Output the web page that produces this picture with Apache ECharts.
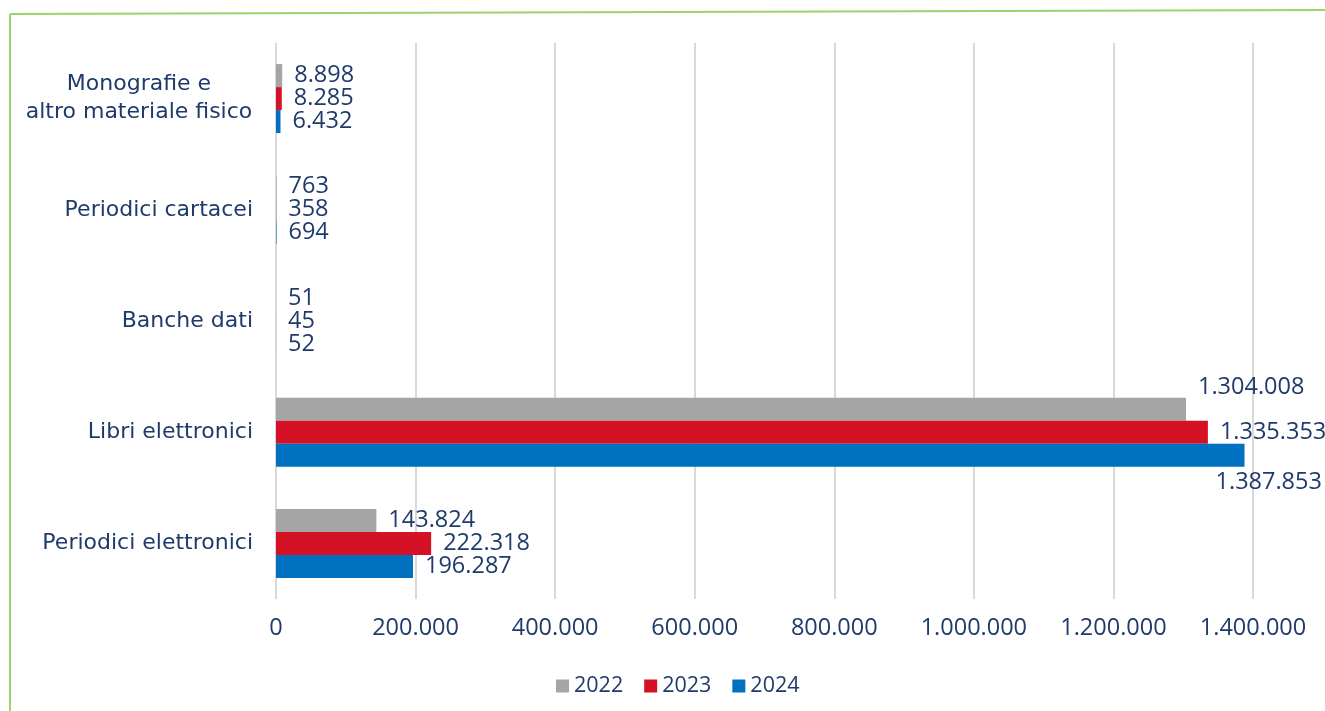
<!DOCTYPE html>
<html>
<head>
<meta charset="utf-8">
<script src="https://cdn.jsdelivr.net/npm/echarts@6/dist/echarts.min.js"></script>
<style>
html,body{margin:0;padding:0;background:#fff;}
#main{width:1325px;height:711px;}
</style>
</head>
<body>
<div id="main"></div>
<script>
const categories = ['Periodici elettronici', 'Libri elettronici', 'Banche dati', 'Periodici cartacei', 'Monografie e\naltro materiale fisico'];
const years = ['2022', '2023', '2024'];
const values2022 = [143824, 1304008, 51, 763, 8898];
const values2023 = [222318, 1335353, 45, 358, 8285];
const values2024 = [196287, 1387853, 52, 694, 6432];
const xTicks = { min: 0, max: 1400000, interval: 200000 };

const FONT = 'Open Sans';
const CAT_FONT = 'DejaVu Sans';
const TXT = '#1F3B6C';
const colors = ['#A5A5A5', '#D51125', '#0070C0'];

function fmt(v) {
  return String(v).replace(/\B(?=(\d{3})+(?!\d))/g, '.');
}

// special label placement for the long bars (Libri elettronici)
const specialOffsets = {
  '2022': { 1: [0, -22] },
  '2023': {},
  '2024': { 1: [-41, 27] }
};

function buildData(vals, year) {
  return vals.map((v, i) => {
    const off = specialOffsets[year][i];
    if (off) return { value: v, label: { offset: off } };
    return v;
  });
}

const seriesVals = [values2022, values2023, values2024];

const chart = echarts.init(document.getElementById('main'), null, { renderer: 'canvas' });
chart.setOption({
  animation: false,
  backgroundColor: '#fff',
  textStyle: { fontFamily: FONT },
  graphic: [
    { type: 'line', shape: { x1: 10, y1: 14, x2: 1325, y2: 10 }, style: { stroke: '#9BD46C', lineWidth: 2 } },
    { type: 'line', shape: { x1: 10, y1: 14, x2: 10, y2: 711 }, style: { stroke: '#9BD46C', lineWidth: 2 } }
  ],
  legend: {
    data: years,
    left: 551,
    top: 670,
    itemWidth: 13,
    itemHeight: 13,
    itemGap: 21,
    icon: 'rect',
    textStyle: { fontFamily: FONT, fontSize: 21.5, color: TXT }
  },
  grid: { left: 276, right: 72, top: 43, bottom: 112, containLabel: false },
  xAxis: {
    type: 'value',
    min: xTicks.min,
    max: xTicks.max,
    interval: xTicks.interval,
    axisLine: { show: false },
    axisTick: { show: false },
    splitLine: { show: true, lineStyle: { color: '#D9D9D9', width: 2 } },
    axisLabel: { fontFamily: FONT, fontSize: 23.5, color: TXT, margin: 17, formatter: v => fmt(v) }
  },
  yAxis: {
    type: 'category',
    data: categories,
    axisLine: { show: false },
    axisTick: { show: false },
    axisLabel: {
      fontFamily: CAT_FONT, fontSize: 22, color: TXT, margin: 23, lineHeight: 28,
      formatter: function (v) {
        if (v.indexOf('\n') >= 0) {
          return v.split('\n').map(s => '{c|' + s + '}').join('\n');
        }
        return v;
      },
      rich: { c: { width: 228, align: 'center', fontFamily: CAT_FONT, fontSize: 22, color: TXT, lineHeight: 28 } }
    }
  },
  series: years.map((y, k) => ({
    name: y,
    type: 'bar',
    data: buildData(seriesVals[k], y),
    barWidth: 23,
    barGap: '0%',
    itemStyle: { color: colors[k] },
    label: {
      show: true,
      position: 'right',
      distance: 12,
      fontFamily: FONT,
      fontSize: 23.5,
      color: TXT,
      formatter: p => fmt(p.value)
    }
  }))
});
</script>
</body>
</html>
